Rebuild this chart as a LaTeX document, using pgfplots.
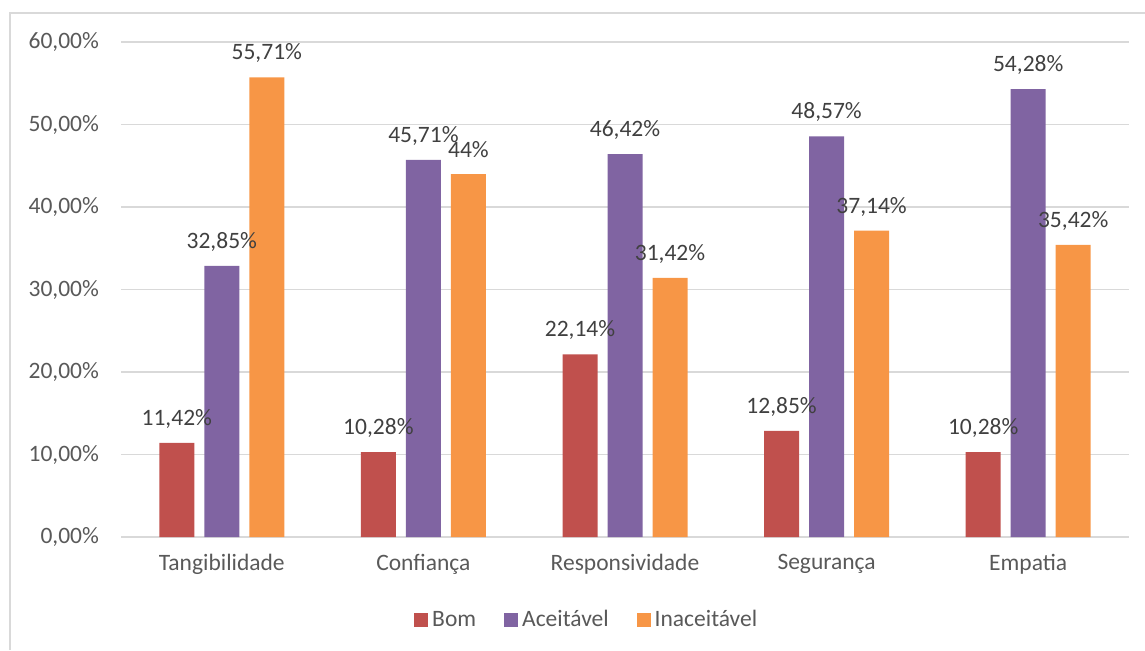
\documentclass[border=0pt]{standalone}
\usepackage{pgfplots}
\pgfplotsset{compat=1.18}
\usepackage{pgfplotstable}
\usepackage{fontspec}
\setmainfont{Carlito}
\definecolor{cBom}{HTML}{C0504D}
\definecolor{cAce}{HTML}{8064A2}
\definecolor{cIna}{HTML}{F79646}
\definecolor{gridc}{HTML}{D9D9D9}
\definecolor{txt}{HTML}{595959}
\definecolor{lab}{HTML}{404040}
\pgfplotstableread{
x bom bomlab acc acclab ina inalab
0 11.42 11,42 32.85 32,85 55.71 55,71
1 10.28 10,28 45.71 45,71 44.00 44
2 22.14 22,14 46.42 46,42 31.42 31,42
3 12.85 12,85 48.57 48,57 37.14 37,14
4 10.28 10,28 54.28 54,28 35.42 35,42
}\data
\begin{document}
\begin{tikzpicture}
\useasboundingbox (0,0) rectangle (572.5pt,325pt);
\draw[gridc, line width=0.6pt] (5pt,0) -- (5pt,318.5pt) -- (572.5pt,318.5pt);
\begin{axis}[
  at={(60.5pt,56.5pt)}, anchor=south west,
  scale only axis, width=504pt, height=247.5pt,
  ybar=5pt, bar width=17.5pt,
  xmin=-0.5, xmax=4.5, ymin=0, ymax=60,
  axis line style={draw=none},
  ymajorgrids, grid style={gridc, line width=0.75pt},
  major tick length=0pt,
  xtick={0,1,2,3,4},
  xticklabels={Tangibilidade,Confiança,Responsividade,Segurança,Empatia},
  ytick={0,10,20,30,40,50,60},
  yticklabels={{0,00\%},{10,00\%},{20,00\%},{30,00\%},{40,00\%},{50,00\%},{60,00\%}},
  tick label style={font=\fontsize{11.75}{14}\selectfont, text=txt},
  yticklabel style={xshift=-7.5pt},
  xticklabel style={yshift=-5pt},
  clip=false,
  nodes near coords={\pgfplotspointmeta\%},
  point meta=explicit symbolic,
  every node near coord/.append style={anchor=center, yshift=12pt, font=\fontsize{11.75}{14}\selectfont, text=lab},
  legend style={at={(0.463,-0.168)}, anchor=center, draw=none, legend columns=3,
    font=\fontsize{11.75}{14}\selectfont, text=txt,
    /tikz/every even column/.append style={column sep=12pt}},
  legend image code/.code={\fill[#1] (0pt,-3.5pt) rectangle (7pt,3.5pt);},
]
\addplot[fill=cBom, draw=none] table[x=x, y=bom, meta=bomlab] {\data};
\addplot[fill=cAce, draw=none] table[x=x, y=acc, meta=acclab] {\data};
\addplot[fill=cIna, draw=none] table[x=x, y=ina, meta=inalab] {\data};
\legend{Bom,Aceitável,Inaceitável}
\end{axis}
\end{tikzpicture}
\end{document}
